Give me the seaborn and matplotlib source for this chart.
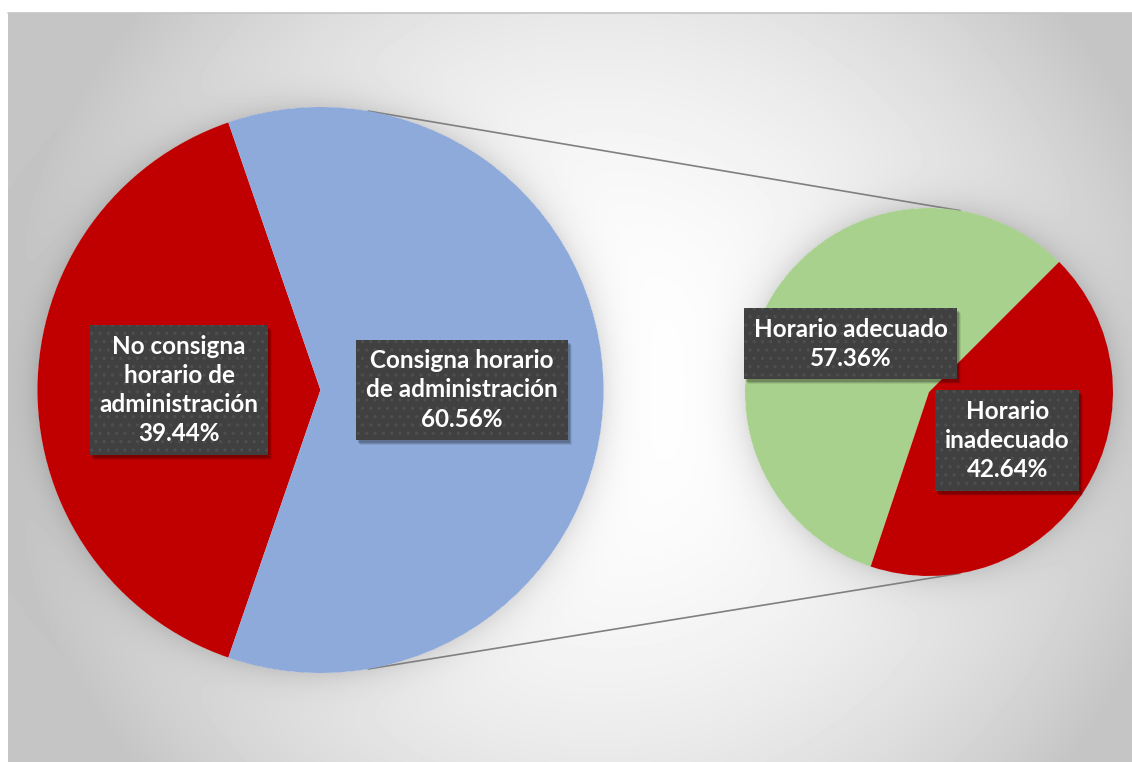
import numpy as np
import matplotlib.pyplot as plt
from matplotlib.patches import Rectangle
import seaborn as sns

# data
main_labels = ['No consigna\nhorario de\nadministración', 'Consigna horario\nde administración']
main_values = [39.44, 60.56]
sub_labels = ['Horario adecuado', 'Horario\ninadecuado']
sub_values = [57.36, 42.64]

main_colors = ['#C00000', '#8EAADB']
sub_colors = ['#A9D18E', '#C00000']

sns.set_theme(style='white')
plt.rcParams['font.family'] = ['Lato', 'DejaVu Sans']
plt.rcParams['patch.force_edgecolor'] = False
plt.rcParams['hatch.linewidth'] = 1.2

W, H = 1132, 762
fig = plt.figure(figsize=(W / 100, H / 100), dpi=100, facecolor='white')
ax = fig.add_axes([0, 0, 1, 1])

big_c, big_r = (320.5, 372), 283
small_c, small_r = (929, 370), 184

# radial grey background with soft glow around the two pies
x0, y1 = 8, H - 13
X, Y = np.meshgrid(np.arange(x0, W) + 0.5, np.arange(0, y1) + 0.5)
bg = 1 - 0.23 * np.clip(np.hypot(X - 600, Y - 372) / 600, 0, 1) ** 2
for (cx, cy), r in [(big_c, big_r), (small_c, small_r)]:
    dd = np.hypot(X - cx, Y - cy) - r
    bg -= np.where(dd > 0, 0.11 * np.exp(-np.clip(dd, 0, None) / 16), 0)
ax.imshow(bg, cmap='gray', vmin=0, vmax=1, extent=(x0, W, 0, y1),
          origin='lower', zorder=0, interpolation='bilinear')
ax.plot([x0, W], [y1, y1], color='#c4c4c4', lw=1.2, zorder=0.5)

# connector lines between the two pies
ang = np.deg2rad(80.3)
for s in (1, -1):
    p1 = (big_c[0] + big_r * np.cos(ang), big_c[1] + s * big_r * np.sin(ang))
    p2 = (small_c[0] + small_r * np.cos(ang), small_c[1] + s * small_r * np.sin(ang))
    ax.plot([p1[0], p2[0]], [p1[1], p2[1]], color='#808080', lw=1.2, zorder=0.8)

box = dict(boxstyle='square,pad=0.4', facecolor='#404040', edgecolor='#4e4e4e',
           linewidth=0, hatch='..')
tprops = dict(color='white', fontsize=17.5, fontweight='bold', linespacing=1.32)

start_big = 180 - main_values[0] / 100 * 360 / 2
_, t_main = ax.pie(main_values,
                   labels=[f'{l}\n{v:.2f}%' for l, v in zip(main_labels, main_values)],
                   colors=main_colors, startangle=start_big, center=big_c, radius=big_r,
                   labeldistance=0.5, wedgeprops=dict(linewidth=0), textprops=tprops)
_, t_sub = ax.pie(sub_values,
                  labels=[f'{l}\n{v:.2f}%' for l, v in zip(sub_labels, sub_values)],
                  colors=sub_colors, startangle=45, center=small_c, radius=small_r,
                  labeldistance=0.5, wedgeprops=dict(linewidth=0), textprops=tprops)

labels = list(t_main) + list(t_sub)
for t in labels:
    t.set_ha('center')
    t.set_va('center')
    t.set_multialignment('center')
    t.set_bbox(box)
    t.set_zorder(4)

ax.set_xlim(0, W)
ax.set_ylim(0, H)
ax.set_aspect('equal')
ax.axis('off')

# drop shadow behind each label box
fig.canvas.draw()
renderer = fig.canvas.get_renderer()
inv = ax.transData.inverted()
for t in labels:
    bb = t.get_bbox_patch().get_window_extent(renderer)
    (bx0, by0), (bx1, by1) = inv.transform([[bb.x0, bb.y0], [bb.x1, bb.y1]])
    for k, a in [(5, 0.08), (4, 0.12), (3, 0.18)]:
        ax.add_patch(Rectangle((bx0 + k - 1, by0 - k), bx1 - bx0, by1 - by0,
                               facecolor='black', alpha=a, linewidth=0, zorder=3.5))

fig.savefig('out.png', dpi=100, facecolor='white')
